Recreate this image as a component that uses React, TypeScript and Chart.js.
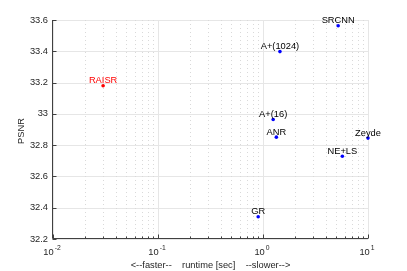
import React, { useEffect, useRef } from "react";
import { Chart, registerables } from "chart.js";

Chart.register(...registerables);

const methods = ["RAISR", "SRCNN", "A+(1024)", "A+(16)", "ANR", "Zeyde", "NE+LS", "GR"];
const runtimes = [0.03, 5.2, 1.45, 1.25, 1.34, 10.0, 5.7, 0.9];
const psnrs = [33.18, 33.563, 33.398, 32.964, 32.851, 32.845, 32.729, 32.342];
const pointColors = ["#ff0000", "#0000ff", "#0000ff", "#0000ff", "#0000ff", "#0000ff", "#0000ff", "#0000ff"];
const labelColors = ["#ff0000", "#000000", "#000000", "#000000", "#000000", "#000000", "#000000", "#000000"];
const yTicks = [32.2, 32.4, 32.6, 32.8, 33, 33.2, 33.4, 33.6];
const xDecades = [0.01, 0.1, 1, 10];
const xExponents = ["-2", "-1", "0", "1"];
const xTitle = "<--faster--    runtime [sec]    --slower-->";
const yTitle = "PSNR";

const FAMILY = '"Liberation Sans", Arial, Helvetica, sans-serif';
const FONT = `9.3px ${FAMILY}`;
const SUP_FONT = `6.8px ${FAMILY}`;
const AXIS_COLOR = "#404040";
const TEXT_COLOR = "#262626";

const decorPlugin = {
  id: "decor",
  beforeDatasetsDraw(chart: any) {
    const { ctx, chartArea: a, scales } = chart;
    const x = scales.x;
    const y = scales.y;
    ctx.save();
    ctx.lineWidth = 1;
    // horizontal grid
    ctx.strokeStyle = "#e6e6e6";
    for (const v of yTicks) {
      const py = Math.round(y.getPixelForValue(v)) + 0.5;
      ctx.beginPath();
      ctx.moveTo(a.left, py);
      ctx.lineTo(a.right, py);
      ctx.stroke();
    }
    // minor vertical dotted grid
    ctx.strokeStyle = "#d9d9d9";
    ctx.setLineDash([1, 3]);
    for (let i = 0; i < xDecades.length - 1; i++) {
      for (let m = 2; m <= 9; m++) {
        const px = Math.round(x.getPixelForValue(xDecades[i] * m)) + 0.5;
        ctx.beginPath();
        ctx.moveTo(px, a.top);
        ctx.lineTo(px, a.bottom);
        ctx.stroke();
      }
    }
    ctx.setLineDash([]);
    // major vertical grid
    ctx.strokeStyle = "#e6e6e6";
    for (const d of xDecades) {
      const px = Math.round(x.getPixelForValue(d)) + 0.5;
      ctx.beginPath();
      ctx.moveTo(px, a.top);
      ctx.lineTo(px, a.bottom);
      ctx.stroke();
    }
    ctx.restore();
  },
  afterDatasetsDraw(chart: any) {
    const { ctx, chartArea: a, scales } = chart;
    const x = scales.x;
    const y = scales.y;
    ctx.save();
    // axes lines
    ctx.strokeStyle = AXIS_COLOR;
    ctx.lineWidth = 1;
    const left = Math.round(a.left) - 0.5;
    const bottom = Math.round(a.bottom) - 0.5;
    ctx.beginPath();
    ctx.moveTo(left, a.top);
    ctx.lineTo(left, bottom);
    ctx.lineTo(a.right, bottom);
    ctx.stroke();
    // y ticks inward
    for (const v of yTicks) {
      const py = Math.round(y.getPixelForValue(v)) + 0.5;
      ctx.beginPath();
      ctx.moveTo(left, py);
      ctx.lineTo(left + 4, py);
      ctx.stroke();
    }
    // x ticks inward
    for (let i = 0; i < xDecades.length; i++) {
      const px = Math.round(x.getPixelForValue(xDecades[i])) + 0.5;
      ctx.beginPath();
      ctx.moveTo(px, bottom);
      ctx.lineTo(px, bottom - 4);
      ctx.stroke();
      if (i < xDecades.length - 1) {
        for (let m = 2; m <= 9; m++) {
          const mx = Math.round(x.getPixelForValue(xDecades[i] * m)) + 0.5;
          ctx.beginPath();
          ctx.moveTo(mx, bottom);
          ctx.lineTo(mx, bottom - 2);
          ctx.stroke();
        }
      }
    }
    // x tick labels with superscript
    ctx.fillStyle = TEXT_COLOR;
    ctx.textBaseline = "alphabetic";
    ctx.textAlign = "left";
    for (let i = 0; i < xDecades.length; i++) {
      const px = x.getPixelForValue(xDecades[i]);
      ctx.font = FONT;
      const wBase = ctx.measureText("10").width;
      ctx.font = SUP_FONT;
      const wExp = ctx.measureText(xExponents[i]).width;
      const start = px - (wBase + 1 + wExp) / 2 - 1;
      ctx.font = FONT;
      ctx.fillText("10", start, a.bottom + 16);
      ctx.font = SUP_FONT;
      ctx.fillText(xExponents[i], start + wBase + 1, a.bottom + 11);
    }
    // axis titles
    ctx.font = FONT;
    ctx.textAlign = "center";
    ctx.textBaseline = "middle";
    ctx.fillText(xTitle, (a.left + a.right) / 2, 265);
    ctx.save();
    ctx.translate(21, 131);
    ctx.rotate(-Math.PI / 2);
    ctx.fillText(yTitle, 0, 0);
    ctx.restore();
    // point labels
    ctx.textBaseline = "alphabetic";
    ctx.textAlign = "center";
    for (let i = 0; i < methods.length; i++) {
      const px = x.getPixelForValue(runtimes[i]);
      const py = y.getPixelForValue(psnrs[i]);
      ctx.fillStyle = labelColors[i];
      ctx.fillText(methods[i], px, py - 2.5);
    }
    ctx.restore();
  },
};

export default function App() {
  const canvasRef = useRef<HTMLCanvasElement | null>(null);

  useEffect(() => {
    const canvas = canvasRef.current;
    if (!canvas) return;
    const chart = new Chart(canvas, {
      type: "scatter",
      data: {
        datasets: [
          {
            label: "methods",
            data: runtimes.map((r, i) => ({ x: r, y: psnrs[i] })),
            pointBackgroundColor: pointColors,
            pointBorderColor: pointColors,
            pointBorderWidth: 0,
            pointRadius: 1.8,
            pointHoverRadius: 1.8,
            clip: false as any,
          },
        ],
      },
      options: {
        responsive: false,
        animation: false,
        devicePixelRatio: 1,
        events: [],
        layout: { padding: { left: 0, right: 39, top: 20, bottom: 0 } },
        plugins: {
          legend: { display: false },
          tooltip: { enabled: false },
          title: { display: false },
        },
        scales: {
          x: {
            type: "logarithmic",
            min: 0.01,
            max: 10,
            grid: { display: false, drawTicks: false },
            border: { display: false },
            ticks: { display: false },
            afterFit: (s: any) => {
              s.height = 32;
            },
          },
          y: {
            type: "linear",
            min: 32.2,
            max: 33.6,
            grid: { display: false, drawTicks: false },
            border: { display: false },
            ticks: {
              stepSize: 0.2,
              padding: 5,
              color: TEXT_COLOR,
              font: { family: FAMILY, size: 9.3 },
              callback: (v: any) => String(Number(Number(v).toFixed(1))),
            },
            afterFit: (s: any) => {
              s.width = 53;
            },
          },
        },
      },
      plugins: [decorPlugin],
    });
    return () => chart.destroy();
  }, []);

  return (
    <div style={{ position: "absolute", left: 0, top: 0, width: 407, height: 271, background: "#ffffff" }}>
      <canvas ref={canvasRef} width={407} height={271} style={{ display: "block" }} />
    </div>
  );
}
